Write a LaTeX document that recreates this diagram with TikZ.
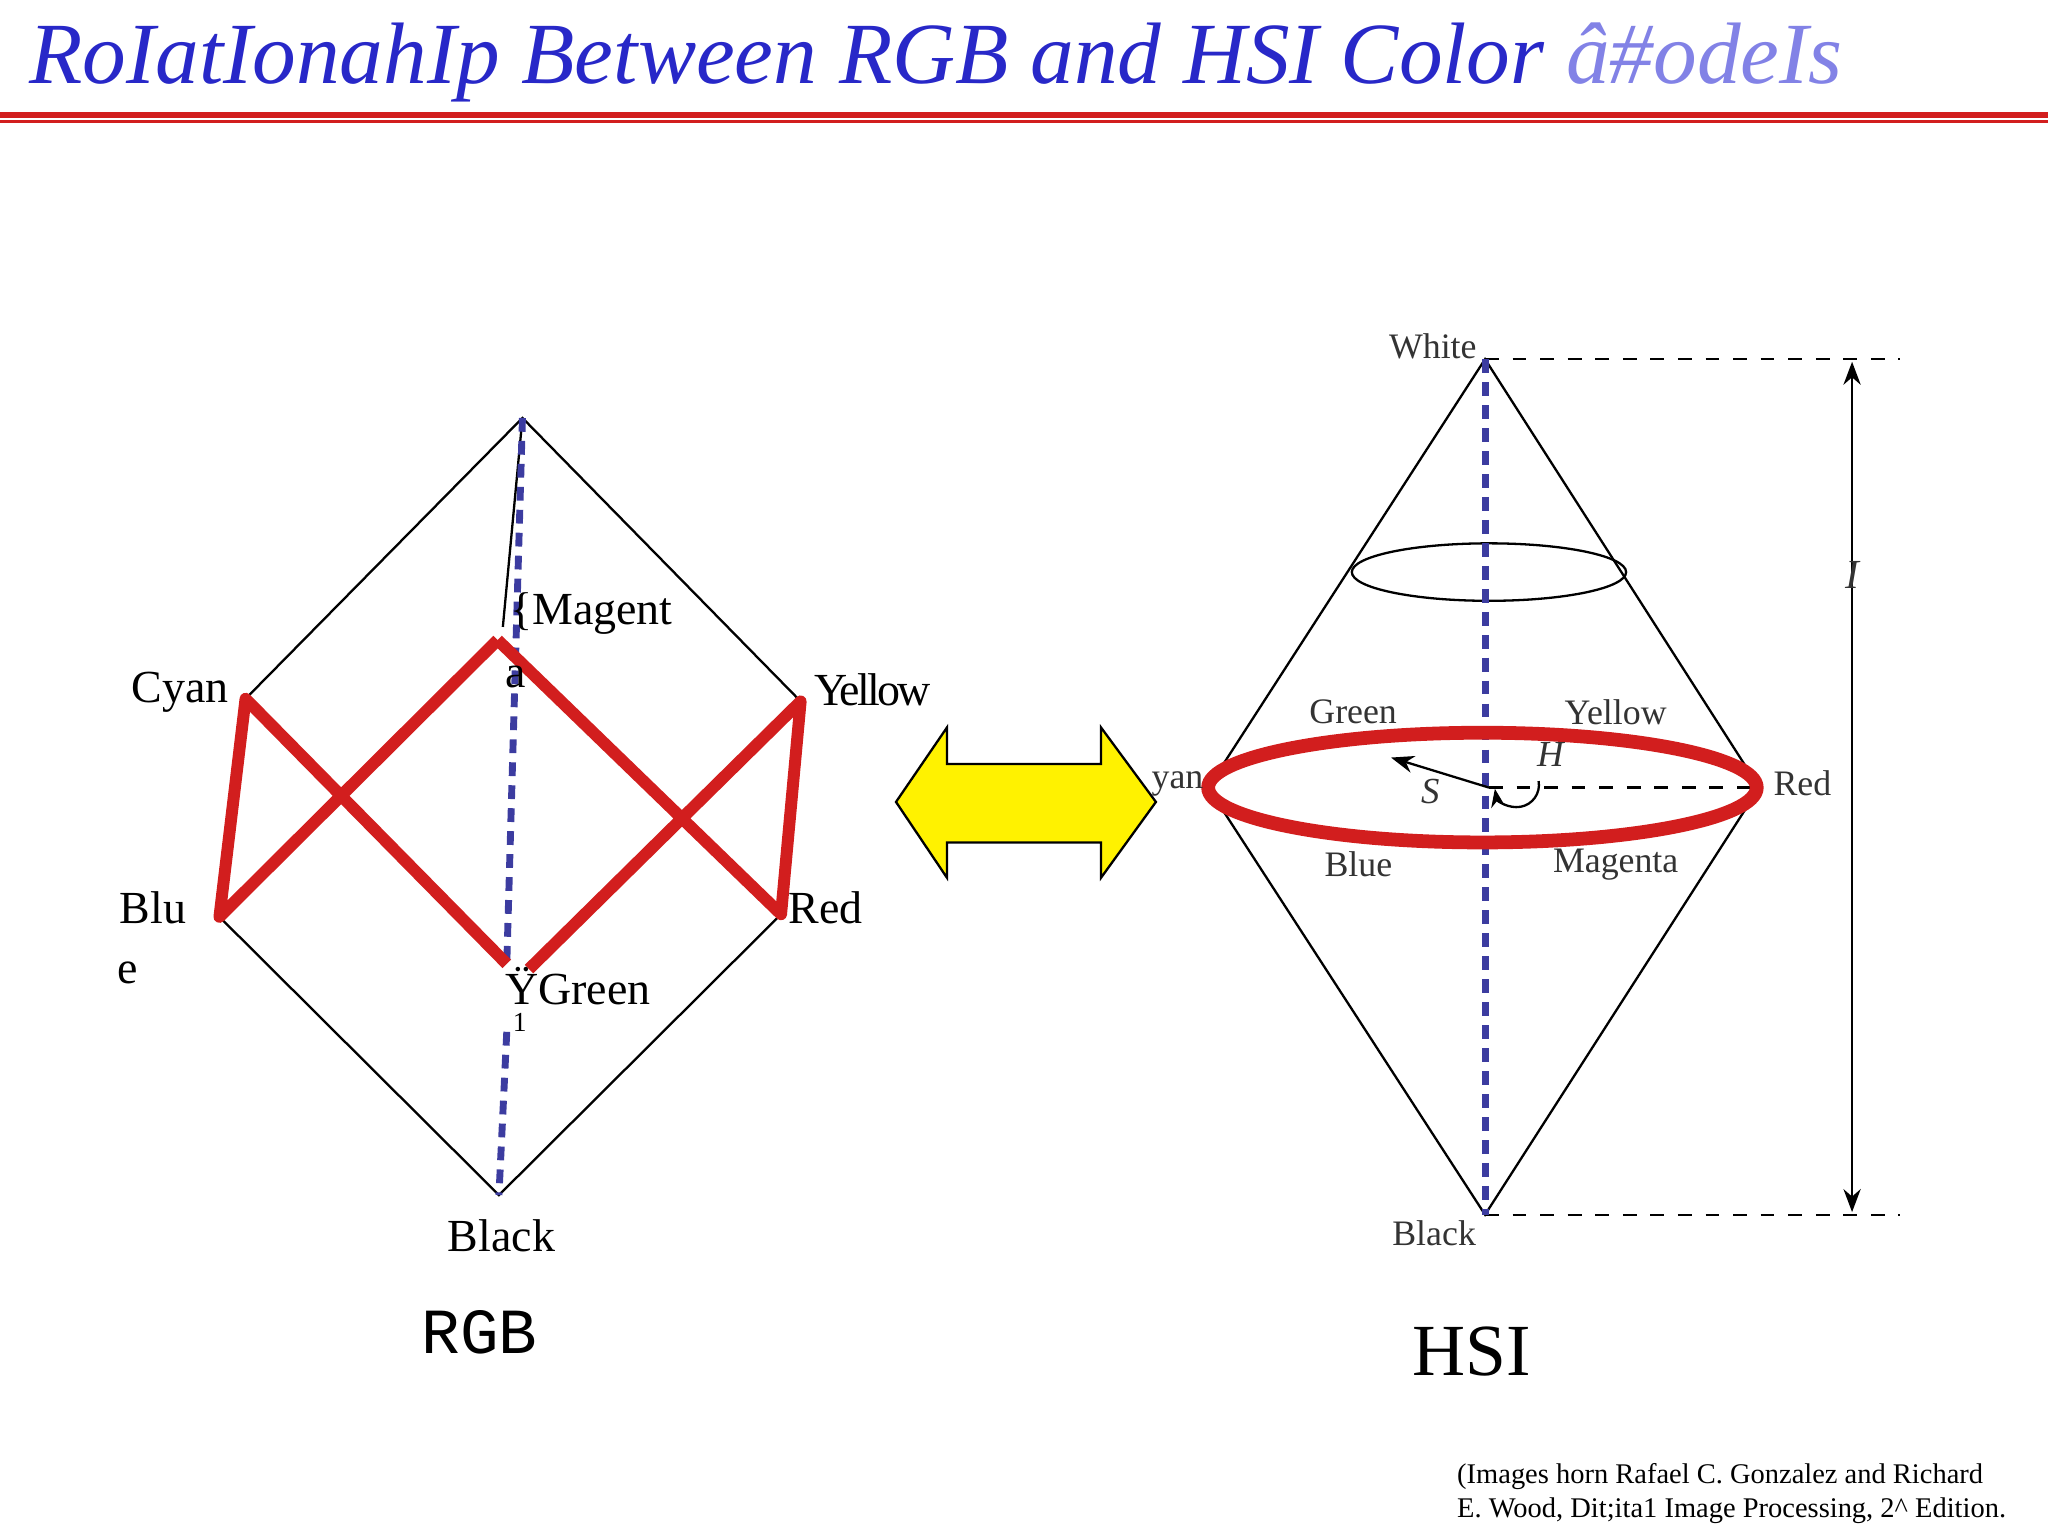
\documentclass[tikz,border=0pt]{standalone}
\usepackage{fontspec}
\setmainfont{Liberation Serif}
\setmonofont{Liberation Mono}
\usetikzlibrary{arrows.meta}
\definecolor{tblue}{RGB}{40,40,200}
\definecolor{tlight}{RGB}{130,130,230}
\definecolor{rline}{RGB}{210,30,30}
\definecolor{dblue}{RGB}{60,60,160}
\tikzset{thin line/.style={black,line width=0.5pt},
 redl/.style={rline,line width=2.6pt},
 bdash/.style={dblue,line width=1.5pt,dash pattern=on 3pt off 2pt},
 lbl/.style={font=\fontsize{10}{11}\selectfont,inner sep=0pt},
 hlbl/.style={font=\fontsize{7.8}{9}\selectfont,inner sep=0pt,text=black!80}}
\begin{document}
\begin{tikzpicture}[x=0.01cm,y=-0.01cm]
\useasboundingbox (0,0) rectangle (1568,1176);
\node[anchor=west,inner sep=0pt,font=\itshape\fontsize{19}{21}\selectfont,text=tblue] (title) at (22,48) {RoIatIonahIp Between RGB and HSI Color \textcolor{tlight}{â\#odeIs}};
\draw[rline,line width=1.2pt] (0,88) -- (1568,88);
\draw[rline,line width=0.8pt] (0,93) -- (1568,93);
% RGB cube
\coordinate (top) at (400,320); \coordinate (cy) at (188,535); \coordinate (ye) at (613,537);
\coordinate (bl) at (168,702); \coordinate (re) at (598,700); \coordinate (bk) at (382,915);
\coordinate (ma) at (381,490); \coordinate (gr) at (405,742); \coordinate (gr2) at (388,738);
\draw[thin line] (cy)--(top)--(ye) (bl)--(bk)--(re) (top)--(385,480);
\draw[bdash] (top)--(gr2); \draw[bdash] (388,790)--(bk);
\draw[redl,line join=round] (ma)--(re)--(ye)--(gr);
\draw[redl,line join=round] (ma)--(bl)--(cy)--(gr2);
\node[lbl] (lcy) at (138,530) {Cyan};
\node[lbl,anchor=west] (lma) at (390,470) {\{Magent};
\node[lbl] (la) at (395,518) {a};
\node[lbl,font=\fontsize{10}{11}\selectfont\addfontfeature{LetterSpace=-6}] (lye) at (668,528) {Yellow};
\node[lbl] (lblu) at (117,695) {Blu};
\node[lbl] (le) at (98,745) {e};
\node[lbl] (lre) at (632,695) {Red};
\node[lbl,anchor=west] (lgr) at (386,755) {ŸGreen};
\node[lbl,font=\fontsize{6}{7}\selectfont] (l1) at (398,783) {1};
\node[lbl] (lbk) at (384,946) {Black};
\node[inner sep=0pt,font=\ttfamily\fontsize{14}{16}\selectfont] (rgb) at (367,1020) {RGB};
% arrow
\draw[black,fill=yellow,line width=0.5pt] (686,614)--(725,557)--(725,585)--(843,585)--(843,557)--(885,614)--(843,672)--(843,645)--(725,645)--(725,672)--cycle;
% HSI
\coordinate (wh) at (1137,275); \coordinate (bb) at (1137,930);
\coordinate (ecy) at (925,603); \coordinate (ere) at (1347,603);
\draw[thin line] (ecy)--(wh)--(ere)--(bb)--cycle;
\draw[thin line] (1140,438) ellipse [x radius=105,y radius=22];
\draw[dashed,thin line] (wh)--(1455,275) (bb)--(1455,930) (1140,603)--(1340,603);
\draw[thin line,{Stealth[length=5pt]}-{Stealth[length=5pt]}] (1418,277)--(1418,928);
\node[hlbl,font=\itshape\fontsize{9}{10}\selectfont] (li) at (1418,440) {I};
\draw[bdash] (wh)--(bb);
\draw[rline,line width=3pt] (1135,603) ellipse [x radius=210,y radius=42];
\draw[thin line,-{Stealth[length=5pt]}] (1140,603)--(1065,580);
\draw[thin line,-{Stealth[length=4pt]}] (1178,598) arc[start angle=-10,end angle=170,radius=17];
\node[hlbl,font=\itshape\fontsize{8}{10}\selectfont] (lh) at (1187,578) {H};
\node[hlbl,font=\itshape\fontsize{8}{10}\selectfont] (ls) at (1095,606) {S};
\node[hlbl] (hgr) at (1036,545) {Green};
\node[hlbl] (hye) at (1237,545) {Yellow};
\node[hlbl] (hbl) at (1040,662) {Blue};
\node[hlbl] (hma) at (1237,662) {Magenta};
\node[hlbl,anchor=east] (hcy) at (922,600) {yan};
\node[hlbl] (hre) at (1380,600) {Red};
\node[hlbl] (hwh) at (1097,265) {White};
\node[hlbl] (hbk) at (1098,944) {Black};
\node[inner sep=0pt,font=\fontsize{16}{18}\selectfont] (hsi) at (1127,1035) {HSI};
\node[anchor=north west,align=left,inner sep=0pt,font=\fontsize{6.2}{7.4}\selectfont] (cite) at (1115,1120) {(Images horn Rafael C. Gonzalez and Richard\\E. Wood, Dit;ita1 Image Processing, 2\^{} Edition.};
\end{tikzpicture}
\end{document}
